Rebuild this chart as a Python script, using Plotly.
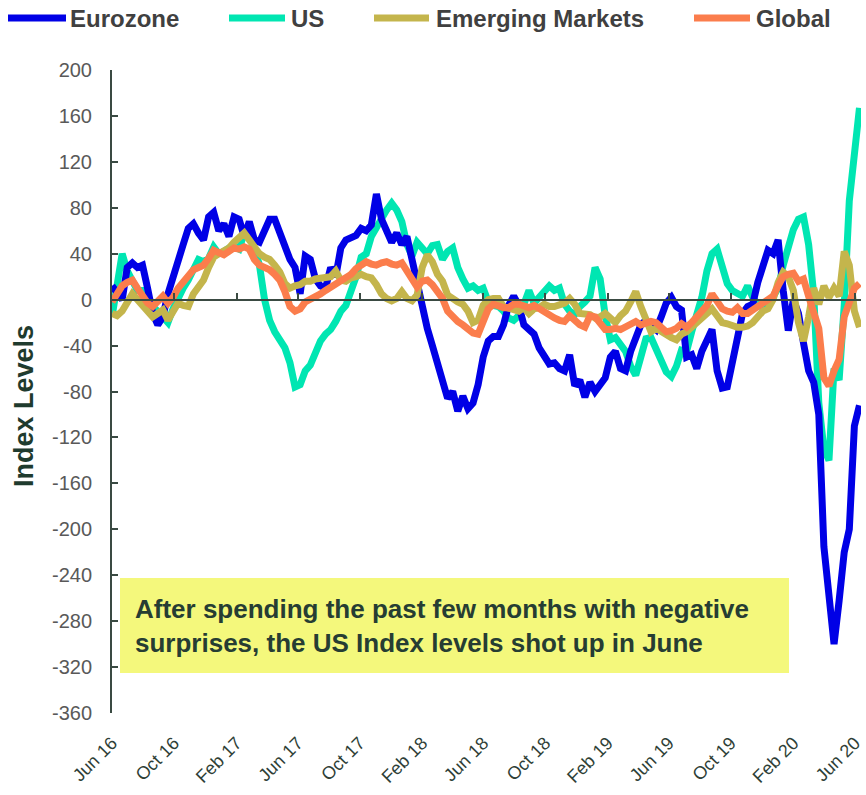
import pandas as pd
import plotly.graph_objects as go

# ---------------- data ----------------
dates = pd.date_range("2016-06-01", periods=148, freq="10D")

eurozone = [12, 5, 0, 28, 32, 28, 30, 10, -12, -22,
            -15, 5, 20, 38, 48, 62, 66, 58, 52, 72,
            76, 60, 66, 55, 72, 70, 55, 68, 52, 50,
            62, 70, 70, 58, 48, 35, 28, 5, 38, 35,
            18, 12, 10, 28, 20, 45, 52, 54, 56, 62,
            60, 65, 92, 70, 58, 50, 58, 48, 55, 35,
            10, -5, -25, -40, -56, -70, -86, -80, -97, -84,
            -95, -90, -74, -50, -36, -32, -32, -22, -5, 3,
            -5, -22, -26, -30, -42, -48, -56, -55, -60, -62,
            -48, -75, -70, -85, -72, -80, -75, -68, -50, -45,
            -60, -62, -45, -35, -22, -18, -22, -26, -15, -3,
            2, -6, -9, -50, -48, -60, -45, -36, -26, -62,
            -77, -76, -56, -36, -12, -6, -4, 15, 32, 43,
            40, 52, 8, -27, 0, -12, -38, -62, -72, -100,
            -215, -262, -300, -262, -220, -200, -110, -92]

us = [-15, 15, 40, 25, 15, 8, 8, 0, -6, -10,
      -15, -20, -8, 3, 10, 17, 28, 35, 33, 36,
      46, 40, 42, 45, 46, 44, 58, 55, 45, 30,
      0, -18, -28, -36, -42, -55, -76, -74, -62, -57,
      -47, -36, -30, -26, -19, -10, -5, 7, 20, 37,
      40, 55, 63, 72, 78, 84, 78, 68, 48, 38,
      50, 45, 40, 47, 48, 35, 42, 45, 28, 18,
      10, 12, 8, 10, -2, -5, -6, -10, -16, -18,
      -14, -4, 8, -3, 2, 5, 12, 8, 10, -4,
      -10, -13, -6, -2, 3, 28, 18, -14, -35, -33,
      -38, -45, -58, -66, -50, -34, -33, -44, -55, -63,
      -67, -58, -44, -45, -28, -14, 2, 25, 40, 44,
      28, 14, 8, 5, 3, 12, 2, -4, -7, -5,
      2, 10, 30, 47, 61, 70, 72, 48, 5, -90,
      -130, -140, -60, -70, -5, 86, 135, 167]

emerging = [-12, -14, -10, -2, 5, 0, -6, -10, -15, -12,
            -9, -18, -10, -3, -5, -6, 5, 10, 17, 28,
            37, 40, 43, 45, 50, 55, 58, 52, 46, 40,
            37, 35, 30, 24, 14, 10, 12, 13, 16, 16,
            18, 19, 20, 20, 25, 17, 16, 19, 20, 22,
            20, 19, 13, 5, 1, -1, 1, 7, 1, -1,
            4, 28, 39, 33, 22, 16, 4, 0, -2, -4,
            -10, -20, -18, -5, 0, 1, 1, -6, -7, -8,
            -10, -7, -12, -8, -7, -4, -6, -6, -4, -3,
            1, -4, -12, -12, -13, -16, -15, -12, -16, -20,
            -14, -10, -2, 7, -6, -18, -28, -25, -28, -30,
            -33, -35, -30, -28, -24, -20, -15, -10, -8, -14,
            -20, -21, -23, -24, -24, -23, -20, -15, -10, -8,
            0, 15, 24, 20, 8, -20, -36, -15, 10, -4,
            12, 2, 10, 3, 42, 30, -10, -24]

global_ = [-2, 5, 12, 15, 17, 10, 3, -3, -6, -2,
           3, -3, 2, 10, 15, 20, 26, 28, 30, 36,
           43, 41, 39, 42, 45, 44, 46, 44, 35, 30,
           28, 26, 22, 17, 7, -6, -10, -8, -2, 0,
           2, 5, 8, 11, 13, 16, 19, 22, 27, 30,
           33, 31, 30, 32, 33, 31, 30, 32, 24, 19,
           11, 16, 17, 13, 6, 1, -10, -15, -19, -22,
           -25, -29, -30, -19, -8, -4, -6, -7, -7, -4,
           -4, -5, -7, -5, -8, -11, -13, -16, -18, -19,
           -14, -19, -22, -24, -14, -15, -20, -26, -26, -25,
           -26, -24, -21, -19, -22, -20, -19, -20, -25, -28,
           -27, -25, -21, -24, -20, -15, -12, -5, 5, -3,
           -8, -10, -11, -7, -12, -12, -9, -6, -4, 0,
           3, 12, 20, 22, 23, 16, 18, 3, -10, -25,
           -68, -75, -62, -52, -15, 0, 10, 14]

series_names = ["Eurozone", "US", "Emerging Markets", "Global"]
series_colors = ["#0000e6", "#00e6b2", "#c4b54c", "#fb7d4c"]

tick_dates = pd.date_range("2016-06-01", "2020-06-01", freq="4MS")
tick_text = [d.strftime("%b %y") for d in tick_dates]
y_ticks = list(range(-360, 201, 40))
y_tick_text = [str(v) for v in y_ticks]

y_title = "Index Levels"
annotation_text = ("After spending the past few months with negative<br>"
                   "surprises, the US Index levels shot up in June")

# ---------------- layout geometry ----------------
W, H = 866, 795
ML, MR, MT, MB = 112, 5, 70, 82
PW, PH = W - ML - MR, H - MT - MB


def px_x(px):
    return (px - ML) / PW


def px_y(py):
    return (H - MB - py) / PH


FONT = "Liberation Sans, Arial, sans-serif"
AXIS_COL = "#3a4a42"

series_map = dict(zip(series_names, [eurozone, us, emerging, global_]))
color_map = dict(zip(series_names, series_colors))

fig = go.Figure()
for name in ["US", "Eurozone", "Emerging Markets", "Global"]:
    fig.add_trace(go.Scatter(
        x=dates, y=series_map[name], mode="lines", name=name,
        line=dict(color=color_map[name], width=7),
        showlegend=False, hoverinfo="skip",
    ))
# invisible trace to carry the zero-line axis
fig.add_trace(go.Scatter(x=[dates[0]], y=[0], xaxis="x2", mode="lines",
                         showlegend=False, hoverinfo="skip",
                         line=dict(width=0)))

x_range = [pd.Timestamp("2016-06-01"), pd.Timestamp("2020-06-13")]

fig.update_layout(
    width=W, height=H,
    margin=dict(l=ML, r=MR, t=MT, b=MB, autoexpand=False),
    plot_bgcolor="white", paper_bgcolor="white",
    font=dict(family=FONT),
    xaxis=dict(
        range=x_range, tickvals=tick_dates, ticktext=tick_text,
        tickangle=-45, showline=False, ticks="", showgrid=False,
        zeroline=False, tickfont=dict(size=18, color="#2f3f37"),
        ticklabelstandoff=15, automargin=False,
    ),
    xaxis2=dict(
        range=x_range, overlaying="x", anchor="free",
        position=360 / 560, tickvals=tick_dates, showticklabels=False,
        showline=True, linecolor=AXIS_COL, linewidth=2,
        ticks="inside", ticklen=6, tickwidth=2, tickcolor=AXIS_COL,
        showgrid=False, zeroline=False, automargin=False,
    ),
    yaxis=dict(
        range=[-360, 200], tickvals=y_ticks, ticktext=y_tick_text,
        showgrid=False, zeroline=False,
        showline=True, linecolor=AXIS_COL, linewidth=2,
        ticks="inside", ticklen=6, tickwidth=2, tickcolor=AXIS_COL,
        tickfont=dict(size=20, color="#595959"), ticklabelstandoff=14,
        automargin=False,
    ),
    showlegend=False,
)

# ---- y-axis title ----
fig.add_annotation(xref="paper", yref="paper", x=px_x(24), y=px_y(406),
                   xanchor="center", yanchor="middle", textangle=-90,
                   showarrow=False, text=f"<b>{y_title}</b>",
                   font=dict(size=27, color="#1f3b2e", family=FONT))

# ---- legend (drawn manually to match the reference spacing) ----
legend_line_px = [(8, 66), (229, 285), (374, 429), (694, 750)]
legend_text_px = [68, 289, 434, 754]
legend_y = 18
for name, (x0, x1), tx in zip(series_names, legend_line_px, legend_text_px):
    fig.add_shape(type="line", xref="paper", yref="paper",
                  x0=px_x(x0), x1=px_x(x1), y0=px_y(legend_y), y1=px_y(legend_y),
                  line=dict(color=color_map[name], width=7))
    fig.add_annotation(xref="paper", yref="paper", x=px_x(tx), y=px_y(legend_y),
                       xanchor="left", yanchor="middle", showarrow=False,
                       text=f"<b>{name}</b>",
                       font=dict(size=24, color="#404040", family=FONT))

# ---- annotation box ----
fig.add_shape(type="rect", xref="paper", yref="paper",
              x0=px_x(120), x1=px_x(789), y0=px_y(673), y1=px_y(578),
              fillcolor="#f4f87c", line=dict(width=0), layer="below")
fig.add_annotation(xref="paper", yref="paper", x=px_x(133), y=px_y(626),
                   xanchor="left", yanchor="middle", align="left",
                   showarrow=False, text=f"<b>{annotation_text}</b>",
                   font=dict(size=26, color="#263d33", family=FONT))

fig.write_html(
    "out.html",
    config={"displayModeBar": False},
    post_script="document.body.style.margin='0';document.body.style.overflow='hidden';",
)
